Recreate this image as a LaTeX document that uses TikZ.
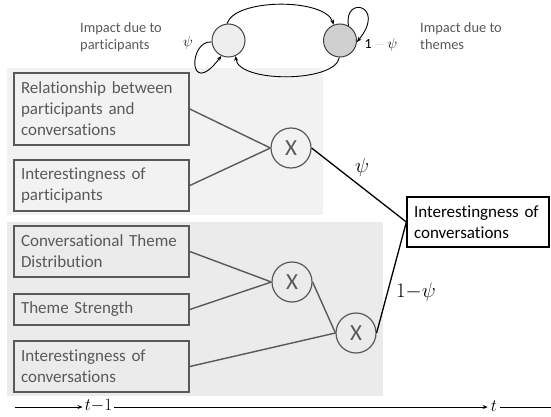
\documentclass[tikz,border=0pt]{standalone}
\usepackage{fontspec}
\setmainfont{Carlito}[Ligatures=NoCommon]
\usetikzlibrary{arrows.meta}
\definecolor{dg}{HTML}{595959}
\definecolor{panelA}{HTML}{F2F2F2}
\definecolor{panelB}{HTML}{EBEBEB}
\definecolor{stateL}{HTML}{EEEEEE}
\definecolor{stateR}{HTML}{CFCFCF}
\begin{document}
\begin{tikzpicture}[x=1pt,y=-1pt,
  inbox/.style={draw=dg, line width=1.6pt, text=dg, font=\fontsize{17}{21}\selectfont,
    minimum width=175pt, text width=161pt, align=left, inner xsep=7pt, inner ysep=0pt},
  outbox/.style={draw=black, line width=1.3pt, fill=white, text=black, font=\fontsize{17}{21}\selectfont,
    text width=128pt, align=left, inner xsep=7pt, inner ysep=0pt, minimum height=50pt},
  mult/.style={circle, draw=dg, line width=1.2pt, minimum size=40pt, inner sep=0pt, text=dg,
    font=\fontsize{23}{23}\selectfont},
  conn/.style={draw=dg, line width=1.4pt},
  psiline/.style={draw=black, line width=1.3pt},
  state/.style={circle, draw=black!75, line width=1pt, minimum size=33pt, inner sep=0pt},
  arr/.style={-{Stealth[length=5pt,width=4pt]}, line width=0.9pt},
  toplbl/.style={align=left, anchor=north west, font=\fontsize{14.4}{17.5}\selectfont, text=dg, inner sep=0pt},
  mlbl/.style={inner sep=1pt, font=\fontsize{16}{16}\selectfont},
]
\useasboundingbox (0,0) rectangle (551,417);
\fill[white] (0,0) rectangle (551,417);
% panels
\fill[panelA] (7,68) rectangle (323,215);
\fill[panelB] (7,222) rectangle (383,396);

% top state diagram
\node[state, fill=stateL] (sL) at (228.5,40.5) {};
\node[state, fill=stateR] (sR) at (340,40.5) {};
\draw[arr] (sL.95) .. controls (235,-2) and (325,-2) .. (sR.112);
\draw[arr] (sR.-92) .. controls (335,83) and (238,83) .. (sL.-65);
\draw[arr] (sL.185) .. controls (188,40) and (188,100) .. (sL.-115);
\draw[arr] (sR.60) .. controls (343,-5) and (387,5) .. (sR.-5);
\node[mlbl, font=\fontsize{14}{14}\selectfont] (psiL) at (188,43) {$\psi$};
\node[mlbl, font=\fontsize{14}{14}\selectfont] (psiR) at (381,45) {1\,{\color{black!20}$-$}\,$\psi$};
\node[toplbl] (lblL) at (80,22) {Impact due to\\participants};
\node[toplbl] (lblR) at (420,22) {Impact due to\\themes};

% input boxes
\node[inbox, minimum height=72pt] (b1) at (101.5,109) {Relationship between\\participants and\\conversations};
\node[inbox, minimum height=51pt] (b2) at (101.5,185.5) {Interestingness of\\participants};
\node[inbox, minimum height=51pt] (b3) at (101.5,251.5) {Conversational Theme\\Distribution};
\node[inbox, minimum height=31pt] (b4) at (101.5,309.5) {Theme Strength};
\node[inbox, minimum height=51pt] (b5) at (101.5,366.5) {Interestingness of\\conversations};

% multipliers
\node[mult] (m1) at (291,148) {X};
\node[mult] (m2) at (292,282) {X};
\node[mult] (m3) at (356,333) {X};

% output
\node[outbox] (out) at (478,222) {Interestingness of\\conversations};

% connectors
\draw[conn] (b1.east) -- (m1.west);
\draw[conn] (b2.east) -- (m1.west);
\draw[conn] (b3.east) -- (m2.west);
\draw[conn] (b4.east) -- (m2.west);
\draw[conn] (m2.east) -- (m3.west);
\draw[conn] (b5.east) -- (m3.west);
\draw[psiline] (m1.east) -- (out.west);
\draw[psiline] (m3.east) -- (out.west);
\node[mlbl, font=\fontsize{20}{20}\selectfont] (lpsi) at (362,167) {$\psi$};
\node[mlbl, font=\fontsize{20}{20}\selectfont] (lonepsi) at (416,292) {$1{-}\psi$};

% timeline
\coordinate (t0) at (15,407);
\node[inner sep=2pt, font=\fontsize{19}{19}\selectfont] (tm1) at (98.5,406) {$t{-}1$};
\node[inner sep=3pt, font=\fontsize{19}{19}\selectfont] (tt) at (494,406) {$t$};
\coordinate (tend) at (551,407);
\draw[arr] (t0) -- (t0 -| tm1.west);
\draw[arr] (tm1.east |- t0) -- (t0 -| tt.west);
\draw[line width=0.9pt] (tt.east |- t0) -- (tend);
\end{tikzpicture}
\end{document}
